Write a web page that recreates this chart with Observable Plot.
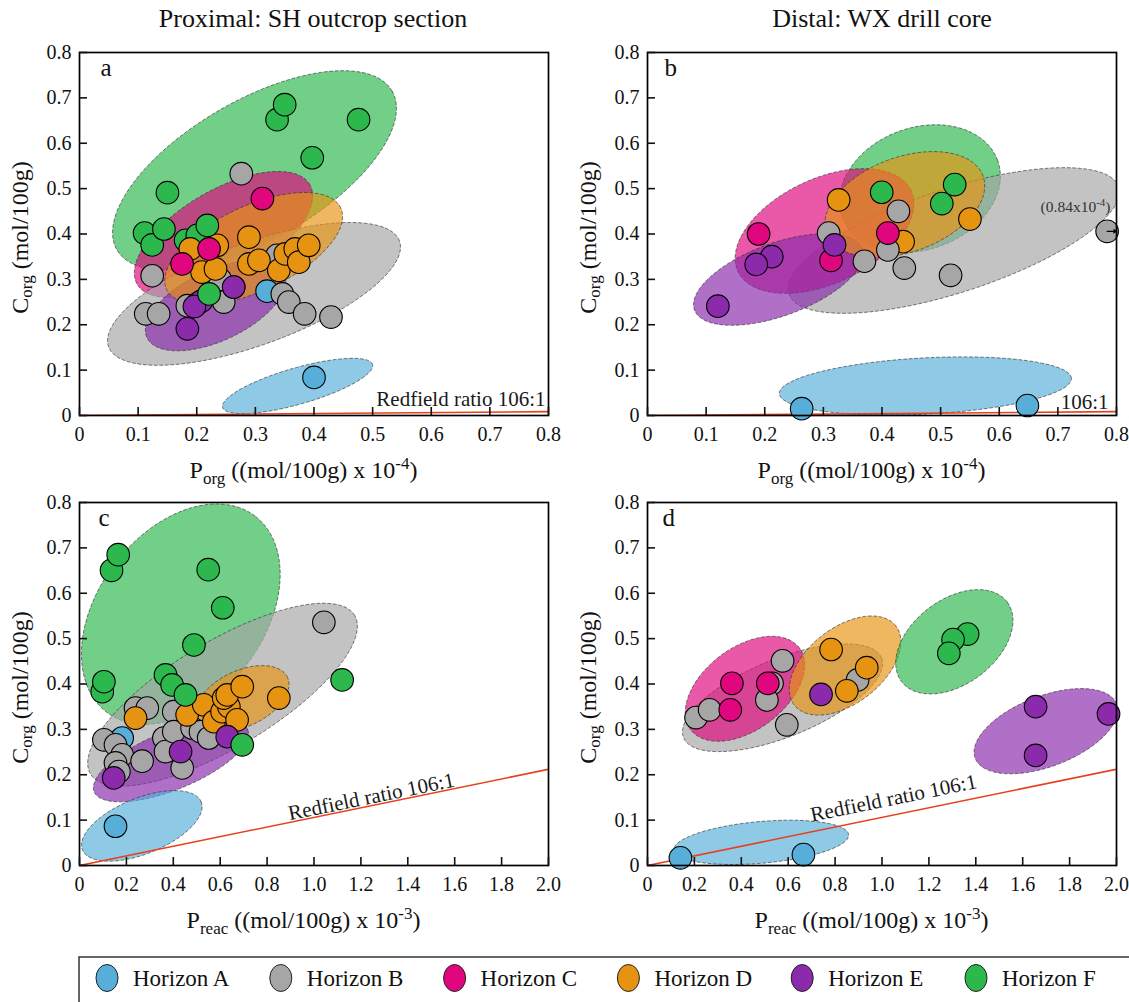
<!DOCTYPE html>
<html><head><meta charset="utf-8">
<script src="https://cdn.jsdelivr.net/npm/d3@7"></script>
<script src="https://cdn.jsdelivr.net/npm/@observablehq/plot@0.6"></script>
<style>
body{margin:0;background:#fff;}
#chart{position:relative;width:1129px;height:1002px;overflow:hidden;font-family:"Liberation Serif","Times New Roman",serif;color:#111;}
.title{position:absolute;top:4px;font-size:26px;transform:translateX(-50%);white-space:nowrap;}
.panel{position:absolute;}
.panel svg{overflow:visible;}
#legend{position:absolute;left:0;top:948px;}
</style></head><body><div id="chart"></div>
<script>
// ---------- categories & colours ----------
const horizons = ["A", "B", "C", "D", "E", "F"];
const horizonLabels = ["Horizon A", "Horizon B", "Horizon C", "Horizon D", "Horizon E", "Horizon F"];
const horizonColors = ["#56aed9", "#a6a6a6", "#e0077e", "#e79312", "#8b2aab", "#2db84e"];

// ---------- tick labels ----------
const yTicks = [0, 0.1, 0.2, 0.3, 0.4, 0.5, 0.6, 0.7, 0.8];
const porgTicks = [0, 0.1, 0.2, 0.3, 0.4, 0.5, 0.6, 0.7, 0.8];
const preacTicks = [0, 0.2, 0.4, 0.6, 0.8, 1.0, 1.2, 1.4, 1.6, 1.8, 2.0];

// ---------- samples: [horizon, P, Corg] ----------
const pointsA = [
  ["A",0.320,0.274],
  ["B",0.276,0.533],["B",0.124,0.308],["B",0.113,0.224],["B",0.135,0.224],["B",0.184,0.242],["B",0.201,0.246],
  ["B",0.246,0.250],["B",0.263,0.283],["B",0.240,0.300],["B",0.337,0.353],["B",0.346,0.268],["B",0.357,0.250],
  ["B",0.384,0.224],["B",0.429,0.217],
  ["F",0.181,0.386],["F",0.201,0.397],
  ["D",0.189,0.367],["D",0.235,0.375],["D",0.209,0.316],["D",0.232,0.323],["D",0.289,0.393],["D",0.289,0.334],
  ["D",0.306,0.342],["D",0.340,0.320],["D",0.351,0.356],["D",0.368,0.367],["D",0.374,0.338],["D",0.391,0.375],
  ["C",0.312,0.478],["C",0.221,0.367],["C",0.175,0.334],
  ["E",0.263,0.283],["E",0.208,0.252],["E",0.196,0.240],["E",0.184,0.191],
  ["F",0.337,0.652],["F",0.350,0.685],["F",0.476,0.652],["F",0.397,0.568],["F",0.150,0.491],["F",0.111,0.402],
  ["F",0.124,0.376],["F",0.144,0.411],["F",0.218,0.419],["F",0.221,0.268],
  ["A",0.400,0.084]
];
const pointsB = [
  ["F",0.3995,0.492],["F",0.524,0.509],["F",0.502,0.467],
  ["D",0.326,0.475],["D",0.550,0.433],["D",0.436,0.383],
  ["B",0.428,0.450],["B",0.309,0.402],["B",0.410,0.365],["B",0.370,0.340],["B",0.438,0.325],["B",0.517,0.309],["B",0.784,0.406],
  ["C",0.1895,0.400],["C",0.410,0.402],["C",0.313,0.342],
  ["E",0.319,0.376],["E",0.212,0.350],["E",0.1855,0.333],["E",0.120,0.241],
  ["A",0.263,0.015],["A",0.648,0.022]
];
const pointsC = [
  ["A",0.182,0.281],
  ["B",1.042,0.536],["B",0.239,0.347],["B",0.289,0.347],["B",0.402,0.339],["B",0.104,0.277],["B",0.1535,0.266],
  ["B",0.182,0.244],["B",0.1535,0.226],["B",0.267,0.230],["B",0.360,0.281],["B",0.367,0.251],["B",0.438,0.215],
  ["B",0.402,0.295],["B",0.480,0.303],["B",0.516,0.295],["B",0.551,0.281],["B",0.168,0.207],
  ["A",0.1535,0.0865],
  ["D",0.239,0.325],["D",0.459,0.332],["D",0.530,0.354],["D",0.573,0.317],["D",0.608,0.339],["D",0.637,0.350],
  ["D",0.615,0.369],["D",0.630,0.376],["D",0.672,0.321],["D",0.694,0.394],["D",0.850,0.369],
  ["E",0.630,0.284],["E",0.431,0.251],["E",0.146,0.193],
  ["F",0.1365,0.6505],["F",0.165,0.685],["F",0.549,0.652],["F",0.611,0.568],["F",0.488,0.486],["F",0.097,0.383],
  ["F",0.104,0.405],["F",0.367,0.420],["F",0.395,0.398],["F",0.452,0.376],["F",1.120,0.409],["F",0.694,0.266]
];
const pointsD = [
  ["B",0.207,0.326],["B",0.265,0.343],["B",0.576,0.451],["B",0.531,0.4015],["B",0.509,0.365],["B",0.594,0.310],["B",0.896,0.409],
  ["C",0.360,0.4015],["C",0.513,0.4015],["C",0.353,0.343],
  ["D",0.783,0.476],["D",0.935,0.436],["D",0.850,0.385],
  ["E",0.740,0.377],["E",1.655,0.350],["E",1.966,0.334],["E",1.655,0.2425],
  ["F",1.365,0.510],["F",1.303,0.498],["F",1.285,0.4675],
  ["A",0.1404,0.017],["A",0.665,0.024]
];

// ---------- group envelopes: [horizon, centre P, centre Corg, semi-major, semi-minor (in P units), tilt deg] ----------
const ellipsesA = [
  ["F",0.2985,0.540,0.271,0.119,30],
  ["C",0.2456,0.399,0.170,0.076,30],
  ["B",0.2977,0.268,0.264,0.087,20],
  ["E",0.232,0.242,0.129,0.060,25],
  ["D",0.297,0.368,0.164,0.0725,25],
  ["A",0.372,0.065,0.133,0.031,16]
];
const ellipsesB = [
  ["F",0.4647,0.500,0.141,0.104,20],
  ["B",0.5226,0.3857,0.2957,0.0885,18],
  ["C",0.302,0.4066,0.163,0.0894,25],
  ["E",0.223,0.2997,0.152,0.062,20],
  ["D",0.439,0.465,0.142,0.081,20],
  ["A",0.474,0.065,0.2494,0.048,3]
];
const ellipsesC = [
  ["F",0.432,0.554,0.5245,0.354,53],
  ["B",0.610,0.3765,0.657,0.226,31],
  ["E",0.390,0.2308,0.353,0.124,22],
  ["D",0.694,0.368,0.213,0.119,25],
  ["A",0.2657,0.0873,0.273,0.119,22]
];
const ellipsesD = [
  ["B",0.5757,0.3697,0.455,0.166,22],
  ["C",0.4157,0.3895,0.290,0.1753,37],
  ["D",0.8426,0.4407,0.2745,0.161,38],
  ["F",1.3085,0.493,0.282,0.180,37],
  ["E",1.699,0.296,0.323,0.150,21],
  ["A",0.485,0.051,0.374,0.089,5]
];

// Redfield ratio Corg:Porg = 106:1 (P axis in units of 1e-4 or 1e-3 mol/100g)
const redfield = 106;
const porgUnit = 1e-4, preacUnit = 1e-3;

const titles = ["Proximal: SH outcrop section", "Distal: WX drill core"];

// ---------- build ----------
const chart = document.getElementById("chart");
const FONT = "'Liberation Serif','Times New Roman',serif";
const colorOf = h => horizonColors[horizons.indexOf(h)];

[[titles[0], 313], [titles[1], 882]].forEach(([t, cx]) => {
  const d = document.createElement("div");
  d.className = "title"; d.style.left = cx + "px"; d.textContent = t;
  chart.appendChild(d);
});

const panels = [
  {letter:"a", pts:pointsA, ell:ellipsesA, left:0, top:30, width:564, ml:79, mr:16, xDomain:[0,0.8], xTicks:porgTicks, unit:porgUnit, sub:"org", sup:"-4",
   red:{x:0.8, text:"Redfield ratio 106:1", anchor:"end", dx:-3, dy:-6, rot:false}, ldx:21},
  {letter:"b", pts:pointsB, ell:ellipsesB, left:566, top:30, width:563, ml:81, mr:13, xDomain:[0,0.8], xTicks:porgTicks, unit:porgUnit, sub:"org", sup:"-4",
   red:{x:0.8, text:"106:1", anchor:"end", dx:-8, dy:-3, rot:false}, ldx:17},
  {letter:"c", pts:pointsC, ell:ellipsesC, left:0, top:480, width:564, ml:79, mr:16, xDomain:[0,2.0], xTicks:preacTicks, unit:preacUnit, sub:"reac", sup:"-3",
   red:{x:1.25, text:"Redfield ratio 106:1", anchor:"middle", dx:0, dy:-2, rot:true}, ldx:19},
  {letter:"d", pts:pointsD, ell:ellipsesD, left:566, top:480, width:563, ml:81, mr:13, xDomain:[0,2.0], xTicks:preacTicks, unit:preacUnit, sub:"reac", sup:"-3",
   red:{x:1.055, text:"Redfield ratio 106:1", anchor:"middle", dx:0, dy:-10, rot:true}, ldx:15}
];

const H = 470, MT = 22, MB = 85;
const fmt = d => d === 0 ? "0" : d.toFixed(1);

panels.forEach(p => {
  const innerW = p.width - p.ml - p.mr, innerH = H - MT - MB;
  const sx = innerW / (p.xDomain[1] - p.xDomain[0]);
  const sy = innerH / 0.8;
  const slope = redfield * p.unit;

  const ellMarks = p.ell.map(e => {
    const [h, cx, cy, a, b, deg] = e;
    const th = deg * Math.PI / 180, ring = [];
    for (let i = 0; i < 120; i++) {
      const t = 2 * Math.PI * i / 120;
      const ux = a * Math.cos(t), uy = b * Math.sin(t);
      const dx = ux * Math.cos(th) - uy * Math.sin(th);
      const dy = ux * Math.sin(th) + uy * Math.cos(th);
      ring.push({x: cx + dx, y: cy + dy * sx / sy});
    }
    return Plot.line(ring, {x:"x", y:"y", curve:"linear-closed", fill: colorOf(h), fillOpacity:0.67,
      stroke:"#2e2e2e", strokeOpacity:0.7, strokeWidth:0.9, strokeDasharray:"3,2.5", clip:true});
  });

  const redLine = [{x: p.xDomain[0], y: 0}, {x: p.xDomain[1], y: slope * p.xDomain[1]}];
  const rotDeg = p.red.rot ? -Math.atan(slope * sy / sx) * 180 / Math.PI : 0;

  const marks = [
    ...ellMarks,
    Plot.line(redLine, {x:"x", y:"y", stroke:"#e8401c", strokeWidth:1.6, clip:true}),
    Plot.text([p.red], {x:"x", y: d => slope * d.x, text:"text", textAnchor:p.red.anchor, lineAnchor:"bottom",
      dx:p.red.dx, dy:p.red.dy, rotate:rotDeg, fontSize:21, fill:"#1a1a1a"}),
    Plot.dot(p.pts, {x: d => d[1], y: d => d[2], r:11.3, fill: d => d[0], stroke:"black", strokeWidth:1.1}),
    Plot.text([p.letter], {frameAnchor:"top-left", dx:p.ldx, dy:6, text: d => d, lineAnchor:"top", textAnchor:"start", fontSize:25}),
    Plot.frame({stroke:"black", strokeWidth:1.7}),
    Plot.axisX(p.xTicks, {tickSize:-8, tickPadding:19, tickFormat:fmt, strokeWidth:1.6, fontSize:20, label:null}),
    Plot.axisY(yTicks, {tickSize:-8, tickPadding:16, tickFormat:fmt, strokeWidth:1.6, fontSize:20, label:null})
  ];
  if (p.letter === "b") {
    const out = pointsB.find(d => d[1] > 0.75);
    marks.push(Plot.arrow([out], {x1: d => d[1], x2: p.xDomain[1], y1: d => d[2], y2: d => d[2],
      stroke:"black", strokeWidth:1.2, headLength:7, insetEnd:0}));
  }

  const plot = Plot.plot({
    width: p.width, height: H, marginLeft: p.ml, marginRight: p.mr, marginTop: MT, marginBottom: MB,
    x: {domain: p.xDomain}, y: {domain: [0, 0.8]},
    color: {domain: horizons, range: horizonColors},
    style: {fontFamily: FONT, fontSize: "20px", color: "#111", background: "transparent", overflow: "visible"},
    marks
  });
  const wrap = document.createElement("div");
  wrap.className = "panel"; wrap.style.left = p.left + "px"; wrap.style.top = p.top + "px";
  wrap.appendChild(plot);
  chart.appendChild(wrap);

  const svg = d3.select(plot.tagName.toLowerCase() === "svg" ? plot : plot.querySelector("svg"));
  // x-axis title with sub/superscripts
  const xt = svg.append("text").attr("x", p.ml + innerW / 2 - 10).attr("y", MT + innerH + 63)
    .attr("text-anchor", "middle").attr("font-family", FONT).attr("font-size", 24).attr("fill", "#111");
  xt.append("tspan").text("P");
  xt.append("tspan").attr("font-size", 17).attr("dy", 6).text(p.sub);
  xt.append("tspan").attr("dy", -6).text(" ((mol/100g) x 10");
  xt.append("tspan").attr("font-size", 17).attr("dy", -9).text(p.sup);
  xt.append("tspan").attr("dy", 9).text(")");
  // y-axis title
  const yx = p.left === 0 ? 22 : 24;
  const yt = svg.append("text").attr("transform", `translate(${yx},${MT + innerH / 2 + 4}) rotate(-90)`)
    .attr("text-anchor", "middle").attr("dominant-baseline", "middle").attr("font-family", FONT).attr("font-size", 24).attr("fill", "#111");
  yt.append("tspan").text("C");
  yt.append("tspan").attr("font-size", 17).attr("dy", 6).text("org");
  yt.append("tspan").attr("dy", -6).text(" (mol/100g)");

  if (p.letter === "b") {
    const xs = plot.scale("x"), ys = plot.scale("y");
    const at = svg.append("text").attr("x", xs.apply(0.731)).attr("y", ys.apply(0.459) + 5)
      .attr("text-anchor", "middle").attr("font-family", FONT).attr("font-size", 15.5).attr("fill", "#333");
    at.append("tspan").text("(0.84x10");
    at.append("tspan").attr("font-size", 11).attr("dy", -6).text("-4");
    at.append("tspan").attr("dy", 6).text(")");
  }
});

// ---------- legend ----------
const lg = d3.select(chart).append("svg").attr("id", "legend").attr("width", 1129).attr("height", 60);
lg.append("rect").attr("x", 79).attr("y", 9).attr("width", 1100).attr("height", 70)
  .attr("fill", "white").attr("stroke", "#333").attr("stroke-width", 1.5);
const legendX = d3.scalePoint().domain(horizons).range([107, 976]);
const items = lg.selectAll("g.item").data(horizons).join("g").attr("class", "item")
  .attr("transform", h => `translate(${legendX(h)},30)`);
items.append("ellipse").attr("rx", 11).attr("ry", 13.5).attr("fill", h => colorOf(h)).attr("stroke", "#222").attr("stroke-width", 1);
items.append("text").attr("x", 26).attr("y", 8).attr("font-family", FONT).attr("font-size", 23).attr("fill", "#111")
  .text((h, i) => horizonLabels[i]);
</script>
</body></html>
